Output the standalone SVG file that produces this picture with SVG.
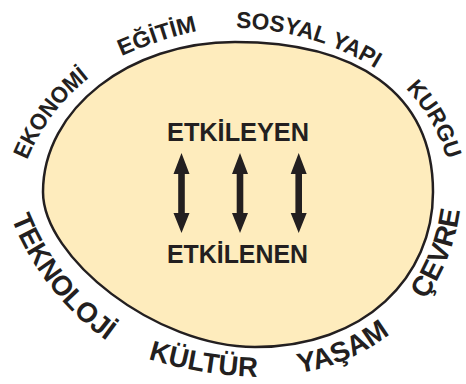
<svg xmlns="http://www.w3.org/2000/svg" xmlns:xlink="http://www.w3.org/1999/xlink" width="466" height="384" viewBox="0 0 466 384">
<style>
.lbl{font-family:"Liberation Sans",Arial,sans-serif;font-weight:bold;fill:#231f20}
.top{font-size:23px}
.bot{font-size:28px}
.mid{font-size:26.5px}
.arr{fill:#231f20}
</style>
<defs>
<path id="pEkonomi" d="M 16.8 193.3 A 200 200 0 0 1 118.4 59"/>
<path id="pEgitim" d="M 84.8 75 A 400 400 0 0 1 238 23.9"/>
<path id="pSosyal" d="M 198 29.8 A 280 280 0 0 1 406.9 90.3"/>
<path id="pKurgu" d="M 382.6 68.7 A 170 170 0 0 1 452.8 189.1"/>
<path id="pTeknoloji" d="M -0.5 181.4 A 275 275 0 0 0 139.9 361.1"/>
<path id="pKultur" d="M 113.6 346.9 A 420 420 0 0 0 293.7 376.5"/>
<path id="pYasam" d="M 271.3 375.4 A 200 200 0 0 0 410.9 315.6"/>
<path id="pCevre" d="M 407 322.3 A 205 205 0 0 0 461.8 181.4"/>
<polygon id="dblArrow" points="0,153 8,174 3.3,174 3.3,213 8,213 0,233 -8,213 -3.3,213 -3.3,174 -8,174"/>
</defs>
<g id="ellipse">
<path d="M 235 42 C 355 42 433 92 433 192 C 433 277 365 347 255 347 C 155 347 43 257 43 192 C 43 109 129 42 235 42 Z" fill="#feecbd" stroke="#231f20" stroke-width="2.5"/>
</g>
<g id="connectors">
<use xlink:href="#dblArrow" href="#dblArrow" x="181.5" class="arr"/>
<use xlink:href="#dblArrow" href="#dblArrow" x="240" class="arr"/>
<use xlink:href="#dblArrow" href="#dblArrow" x="298.7" class="arr"/>
</g>
<g id="etkileyen"><text class="lbl mid" x="238" y="140.5" text-anchor="middle" textLength="142" lengthAdjust="spacingAndGlyphs">ETKİLEYEN</text></g>
<g id="etkilenen"><text class="lbl mid" x="237.5" y="263" text-anchor="middle" textLength="141" lengthAdjust="spacingAndGlyphs">ETKİLENEN</text></g>
<g id="ekonomi"><text class="lbl top"><textPath href="#pEkonomi" xlink:href="#pEkonomi" startOffset="50%" text-anchor="middle" textLength="104" lengthAdjust="spacingAndGlyphs">EKONOMİ</textPath></text></g>
<g id="egitim"><text class="lbl top"><textPath href="#pEgitim" xlink:href="#pEgitim" startOffset="50%" text-anchor="middle" textLength="80" lengthAdjust="spacingAndGlyphs">EĞİTİM</textPath></text></g>
<g id="sosyal-yapi"><text class="lbl top"><textPath href="#pSosyal" xlink:href="#pSosyal" startOffset="50%" text-anchor="middle" textLength="147" lengthAdjust="spacingAndGlyphs">SOSYAL YAPI</textPath></text></g>
<g id="kurgu"><text class="lbl top"><textPath href="#pKurgu" xlink:href="#pKurgu" startOffset="50%" text-anchor="middle" textLength="83" lengthAdjust="spacingAndGlyphs">KURGU</textPath></text></g>
<g id="teknoloji"><text class="lbl bot"><textPath href="#pTeknoloji" xlink:href="#pTeknoloji" startOffset="50%" text-anchor="middle" textLength="157" lengthAdjust="spacingAndGlyphs">TEKNOLOJİ</textPath></text></g>
<g id="kultur"><text class="lbl bot"><textPath href="#pKultur" xlink:href="#pKultur" startOffset="50%" text-anchor="middle" textLength="111" lengthAdjust="spacingAndGlyphs">KÜLTÜR</textPath></text></g>
<g id="yasam"><text class="lbl bot"><textPath href="#pYasam" xlink:href="#pYasam" startOffset="50%" text-anchor="middle" textLength="100" lengthAdjust="spacingAndGlyphs">YAŞAM</textPath></text></g>
<g id="cevre"><text class="lbl bot"><textPath href="#pCevre" xlink:href="#pCevre" startOffset="50%" text-anchor="middle" textLength="97" lengthAdjust="spacingAndGlyphs">ÇEVRE</textPath></text></g>
</svg>
